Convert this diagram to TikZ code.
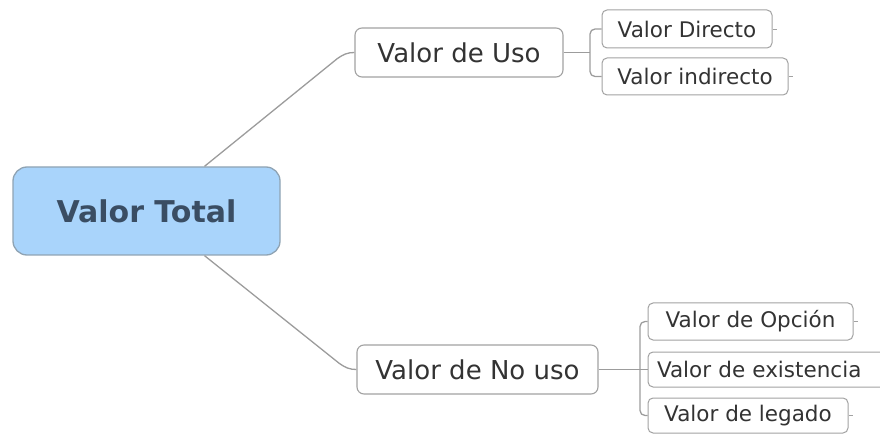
\documentclass[tikz,border=0pt]{standalone}
\usepackage{fontspec}
\setmainfont{DejaVu Sans}
\definecolor{linegray}{HTML}{9C9C9C}
\definecolor{boxgray}{HTML}{A2A2A2}
\definecolor{rootfill}{HTML}{A9D4FB}
\definecolor{rootline}{HTML}{8FA3B3}
\definecolor{roottext}{HTML}{3A4D63}
\definecolor{txt}{HTML}{333333}
\begin{document}
\begin{tikzpicture}[x=1pt,y=-1pt,
  conn/.style={draw=linegray,line width=1.3pt},
  rootbox/.style={draw=rootline,line width=1.3pt,fill=rootfill,rounded corners=14pt,
    text=roottext,font=\bfseries\fontsize{30}{34}\selectfont,inner sep=0pt},
  midbox/.style={draw=boxgray,line width=1.1pt,fill=white,rounded corners=7pt,
    text=txt,font=\fontsize{26}{30}\selectfont,inner sep=0pt},
  leafbox/.style={draw=boxgray,line width=1pt,fill=white,rounded corners=5pt,
    text=txt,font=\fontsize{21.5}{25}\selectfont,inner sep=0pt}]
\useasboundingbox (0,0) rectangle (880,435);

% root
\node[rootbox,minimum width=267pt,minimum height=88pt] (total) at (146.5,211) {Valor Total};

% second level
\node[midbox,minimum width=208pt,minimum height=49pt] (uso) at (459,52.5) {Valor de Uso};
\node[midbox,minimum width=241pt,minimum height=49pt] (nouso) at (477.5,369.5) {Valor de No uso};

% leaves of "Valor de Uso"
\node[leafbox,minimum width=170pt,minimum height=38pt] (dir) at (687,29) {Valor Directo};
\node[leafbox,minimum width=186pt,minimum height=37pt] (ind) at (695,76.5) {Valor indirecto};

% leaves of "Valor de No uso"
\node[leafbox,minimum width=205pt,minimum height=37pt] (op) at (750.5,321.5) {Valor de Opción};
\node[leafbox,minimum width=238pt,minimum height=35pt,text width=220pt,align=left] (ex) at (767,369.5) {Valor de existencia};
\node[leafbox,minimum width=200pt,minimum height=35pt] (leg) at (748,415.5) {Valor de legado};

% root to second level
\draw[conn] ([xshift=58pt]total.north) -- ([xshift=-17pt,yshift=-6pt]uso.west)
  to[out=35,in=180] (uso.west);
\draw[conn] ([xshift=58pt]total.south) -- ([xshift=-17pt,yshift=6pt]nouso.west)
  to[out=-35,in=180] (nouso.west);

% brackets
\coordinate (ub) at (590,52.5);
\draw[conn] (uso.east) -- (ub);
\draw[conn,rounded corners=5pt] (dir.west) -| (ub) |- (ind.west);

\coordinate (nb) at (640,369.5);
\draw[conn] (nouso.east) -- (nb) -- (ex.west);
\draw[conn,rounded corners=5pt] (op.west) -| (nb) |- (leg.west);

% short stubs on the leaves
\foreach \n in {dir,ind,op,leg}
  \draw[draw=boxgray,line width=0.9pt] (\n.east) -- ++(4,0);
\end{tikzpicture}
\end{document}
